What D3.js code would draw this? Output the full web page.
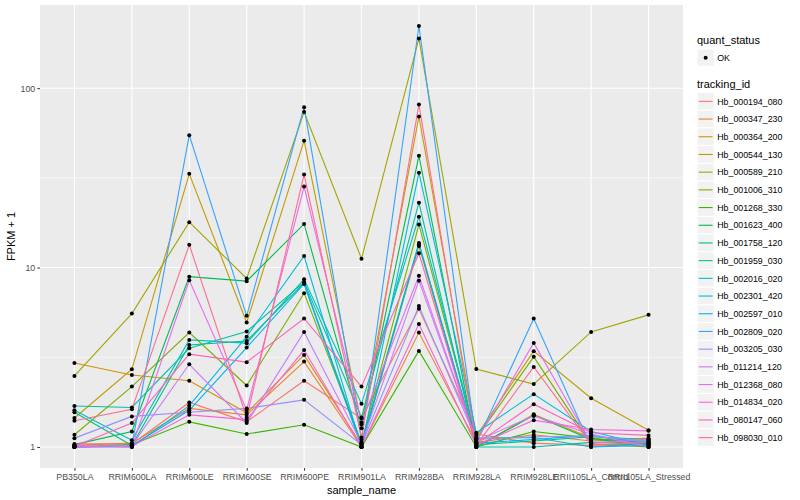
<!DOCTYPE html>
<html>
<head>
<meta charset="utf-8">
<script src="https://cdn.jsdelivr.net/npm/d3@7"></script>
<style>
  html, body { margin: 0; padding: 0; background: #ffffff; }
  svg { display: block; font-family: "Liberation Sans", Arial, Helvetica, sans-serif; }
</style>
</head>
<body>
<svg id="chart" width="800" height="500"></svg>
<script>
// ---- data ----
const samples = ["PB350LA", "RRIM600LA", "RRIM600LE", "RRIM600SE", "RRIM600PE", "RRIM901LA",
  "RRIM928BA", "RRIM928LA", "RRIM928LE", "RRII105LA_Control", "RRII105LA_Stressed"];

const trackingIds = ["Hb_000194_080", "Hb_000347_230", "Hb_000364_200", "Hb_000544_130", "Hb_000589_210",
  "Hb_001006_310", "Hb_001268_330", "Hb_001623_400", "Hb_001758_120", "Hb_001959_030",
  "Hb_002016_020", "Hb_002301_420", "Hb_002597_010", "Hb_002809_020", "Hb_003205_030",
  "Hb_011214_120", "Hb_012368_080", "Hb_014834_020", "Hb_080147_060", "Hb_098030_010"];

const seriesColors = ["#F8766D", "#EA8331", "#D89000", "#C09B00", "#A3A500", "#7CAE00", "#39B600",
  "#00BB4E", "#00BF7D", "#00C1A3", "#00BFC4", "#00BAE0", "#00B0F6", "#35A2FF", "#9590FF",
  "#C77CFF", "#E76BF3", "#FA62DB", "#FF62BC", "#FF6C91"];

// FPKM + 1 per tracking id, one value per sample (same order as samples)
const fpkmPlus1 = [
  [1.04, 1.04, 1.77, 1.38, 2.34, 1.44, 5.9, 1.18, 1.05, 1.02, 1.04],
  [1.02, 1.05, 1.64, 1.51, 2.99, 1.0, 4.34, 1.06, 1.17, 1.08, 1.12],
  [2.94, 2.52, 2.34, 1.55, 3.26, 1.02, 13.2, 1.0, 1.52, 1.12, 1.05],
  [1.45, 2.71, 33.3, 4.94, 51, 1.34, 69.5, 1.15, 3.42, 1.87, 1.24],
  [2.49, 5.54, 17.9, 8.7, 73.6, 11.2, 189, 2.72, 2.24, 4.38, 5.45],
  [1.17, 2.17, 4.34, 2.2, 7.2, 1.06, 17.4, 1.12, 3.18, 1.04, 1.0],
  [1.0, 1.03, 1.38, 1.18, 1.33, 1.0, 3.43, 1.0, 1.22, 1.12, 1.0],
  [1.03, 1.22, 8.9, 8.4, 17.5, 1.27, 42, 1.0, 1.5, 1.1, 1.08],
  [1.56, 1.02, 3.7, 3.9, 8.2, 1.04, 13.7, 1.03, 1.08, 1.14, 1.1],
  [1.69, 1.66, 3.55, 4.4, 8.3, 1.46, 23, 1.0, 1.0, 1.06, 1.07],
  [1.60, 1.09, 3.95, 3.79, 8.6, 1.74, 19.2, 1.12, 1.13, 1.0, 1.05],
  [1.0, 1.0, 1.7, 4.12, 11.6, 1.0, 33.8, 1.2, 1.97, 1.22, 1.02],
  [1.0, 1.02, 1.6, 3.58, 8.1, 1.0, 13.5, 1.05, 1.1, 1.16, 1.03],
  [1.0, 1.02, 54.7, 5.38, 78.4, 1.1, 222, 1.05, 5.2, 1.0, 1.02],
  [1.12, 1.48, 1.56, 1.64, 1.83, 1.03, 6.1, 1.1, 1.14, 1.15, 1.08],
  [1.0, 1.02, 2.89, 1.36, 4.38, 1.05, 8.45, 1.08, 1.49, 1.18, 1.0],
  [1.02, 1.0, 8.5, 1.61, 28.3, 1.37, 9.0, 1.08, 3.8, 1.05, 1.1],
  [1.0, 1.01, 1.51, 1.42, 3.47, 1.0, 4.85, 1.02, 1.41, 1.25, 1.23],
  [1.01, 1.36, 3.29, 2.97, 5.2, 2.17, 12.0, 1.04, 1.73, 1.2, 1.16],
  [1.40, 1.62, 13.4, 1.46, 33, 1.13, 81, 1.02, 2.79, 1.03, 1.06]
];

const yTicks = [1, 10, 100];
const yTickLabels = ["1", "10", "100"];
const quantStatus = ["OK"];

// ---- layout ----
const svg = d3.select("#chart");
const panel = { left: 40, right: 683, top: 5, bottom: 468 };

const x = d3.scalePoint().domain(samples).range([panel.left, panel.right]).padding(0.6);

const allVals = fpkmPlus1.flat();
const lmin = Math.log10(d3.min(allVals)), lmax = Math.log10(d3.max(allVals));
const ex = (lmax - lmin) * 0.05;
const y = d3.scaleLog().domain([Math.pow(10, lmin - ex), Math.pow(10, lmax + ex)])
  .range([panel.bottom, panel.top]);

// panel background
svg.append("rect").attr("x", panel.left).attr("y", panel.top)
  .attr("width", panel.right - panel.left).attr("height", panel.bottom - panel.top)
  .attr("fill", "#EBEBEB");

const grid = svg.append("g");
// minor y grid (midpoints in log space)
const minor = [];
for (let i = 0; i < yTicks.length + 1; i++) {
  const v = Math.pow(10, i - 0.5);
  if (v > y.domain()[0] && v < y.domain()[1]) minor.push(v);
}
grid.selectAll(".ymin").data(minor).enter().append("line")
  .attr("x1", panel.left).attr("x2", panel.right)
  .attr("y1", d => y(d)).attr("y2", d => y(d))
  .attr("stroke", "#ffffff").attr("stroke-width", 0.55);
grid.selectAll(".ymaj").data(yTicks).enter().append("line")
  .attr("x1", panel.left).attr("x2", panel.right)
  .attr("y1", d => y(d)).attr("y2", d => y(d))
  .attr("stroke", "#ffffff").attr("stroke-width", 1.1);
grid.selectAll(".xmaj").data(samples).enter().append("line")
  .attr("x1", d => x(d)).attr("x2", d => x(d))
  .attr("y1", panel.top).attr("y2", panel.bottom)
  .attr("stroke", "#ffffff").attr("stroke-width", 1.1);

// lines
const line = d3.line().x((d, i) => x(samples[i])).y(d => y(d));
svg.append("g").selectAll("path").data(fpkmPlus1).enter().append("path")
  .attr("d", d => line(d))
  .attr("fill", "none")
  .attr("stroke", (d, i) => seriesColors[i])
  .attr("stroke-width", 1.1);

// points
const pts = [];
fpkmPlus1.forEach((row, si) => row.forEach((v, j) => pts.push({ s: samples[j], v })));
svg.append("g").selectAll("circle").data(pts).enter().append("circle")
  .attr("cx", d => x(d.s)).attr("cy", d => y(d.v)).attr("r", 2)
  .attr("fill", "#000000");

// axes
const axisColor = "#4D4D4D";
const xAxis = svg.append("g").attr("transform", `translate(0,${panel.bottom})`)
  .call(d3.axisBottom(x).tickSize(2.75).tickPadding(3));
xAxis.select(".domain").remove();
xAxis.selectAll("line").attr("stroke", "#333333");
xAxis.selectAll("text").attr("fill", axisColor).attr("font-size", "8.8px")
  .attr("font-family", "'Liberation Sans', Arial, sans-serif");

const yAxis = svg.append("g").attr("transform", `translate(${panel.left},0)`)
  .call(d3.axisLeft(y).tickValues(yTicks).tickFormat((d, i) => yTickLabels[i]).tickSize(2.75).tickPadding(2));
yAxis.select(".domain").remove();
yAxis.selectAll("line").attr("stroke", "#333333");
yAxis.selectAll("text").attr("fill", axisColor).attr("font-size", "8.8px")
  .attr("font-family", "'Liberation Sans', Arial, sans-serif");

// axis titles
svg.append("text").attr("x", (panel.left + panel.right) / 2).attr("y", 494)
  .attr("text-anchor", "middle").attr("font-size", "11px").attr("fill", "#000")
  .text("sample_name");
svg.append("text").attr("transform", `translate(15,${(panel.top + panel.bottom) / 2}) rotate(-90)`)
  .attr("text-anchor", "middle").attr("font-size", "11px").attr("fill", "#000")
  .text("FPKM + 1");

// legend
const lg = svg.append("g");
const keyX = 697, keyW = 17.28;
lg.append("text").attr("x", keyX).attr("y", 44).attr("font-size", "11px").attr("fill", "#000").text("quant_status");
quantStatus.forEach((q, i) => {
  const ky = 49 + i * keyW;
  lg.append("rect").attr("x", keyX).attr("y", ky).attr("width", keyW).attr("height", keyW)
    .attr("fill", "#F2F2F2").attr("stroke", "#ffffff").attr("stroke-width", 1);
  lg.append("circle").attr("cx", keyX + keyW / 2).attr("cy", ky + keyW / 2).attr("r", 2).attr("fill", "#000");
  lg.append("text").attr("x", keyX + keyW + 3).attr("y", ky + keyW / 2 + 3.2)
    .attr("font-size", "8.8px").attr("fill", "#000").text(q);
});

lg.append("text").attr("x", keyX).attr("y", 88).attr("font-size", "11px").attr("fill", "#000").text("tracking_id");
const step = 17.7;
trackingIds.forEach((t, i) => {
  const ky = 92.5 + i * step;
  lg.append("rect").attr("x", keyX).attr("y", ky).attr("width", keyW).attr("height", step)
    .attr("fill", "#F2F2F2").attr("stroke", "#ffffff").attr("stroke-width", 1);
  lg.append("line").attr("x1", keyX + 1.7).attr("x2", keyX + keyW - 1.7)
    .attr("y1", ky + step / 2).attr("y2", ky + step / 2)
    .attr("stroke", seriesColors[i]).attr("stroke-width", 1.1);
  lg.append("text").attr("x", keyX + keyW + 3).attr("y", ky + step / 2 + 3.2)
    .attr("font-size", "8.8px").attr("fill", "#000").text(t);
});
</script>
</body>
</html>
